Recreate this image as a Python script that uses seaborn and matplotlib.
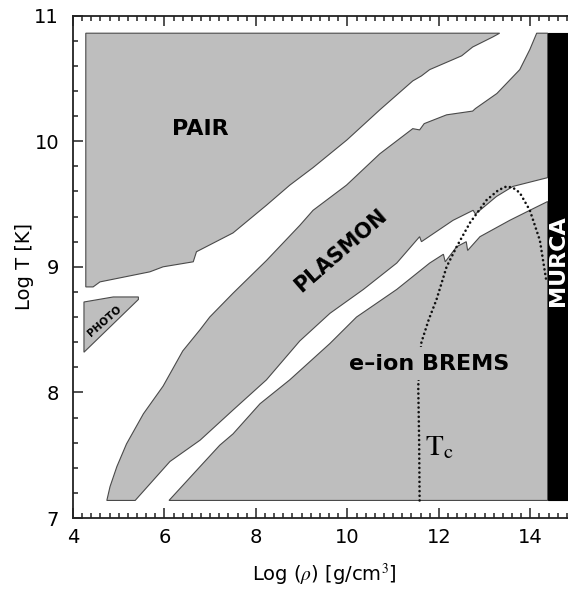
import numpy as np
import pandas as pd
import seaborn as sns
import matplotlib.pyplot as plt
from matplotlib.ticker import MultipleLocator

# region outlines (log rho, log T)
pair_rho = [4.28, 13.33, 13.18, 12.74, 12.50, 12.31, 11.80, 11.62, 11.43, 10.71, 9.99,
            9.25, 8.74, 8.23, 7.50, 6.70, 6.63, 5.97, 5.68, 4.59, 4.44, 4.28]
pair_T = [10.86, 10.86, 10.83, 10.75, 10.68, 10.65, 10.57, 10.52, 10.48, 10.25, 10.01,
          9.79, 9.65, 9.49, 9.27, 9.12, 9.04, 9.00, 8.96, 8.88, 8.84, 8.84]

photo_rho = [4.24, 4.88, 5.43, 5.43, 4.24]
photo_T = [8.72, 8.76, 8.76, 8.74, 8.32]

plasmon_rho = [4.74, 5.36, 6.12, 6.78, 7.50, 8.23, 8.96, 9.62, 10.35, 11.08, 11.58,
               11.62, 12.31, 12.75, 12.80, 13.26, 13.62, 14.38, 14.38, 14.14, 13.99,
               13.77, 13.27, 12.80, 12.74, 12.17, 11.68, 11.58, 11.43, 10.71, 9.98,
               9.25, 8.96, 8.23, 7.50, 6.99, 6.78, 6.40, 5.97, 5.54, 5.17, 4.96, 4.81, 4.74]
plasmon_T = [7.14, 7.14, 7.45, 7.62, 7.86, 8.10, 8.41, 8.63, 8.82, 9.03, 9.24,
             9.20, 9.37, 9.45, 9.42, 9.56, 9.64, 9.71, 10.86, 10.86, 10.73,
             10.57, 10.38, 10.26, 10.24, 10.21, 10.14, 10.09, 10.10, 9.90, 9.65,
             9.45, 9.33, 9.05, 8.79, 8.60, 8.50, 8.33, 8.05, 7.83, 7.59, 7.41, 7.25, 7.14]

brems_rho = [6.10, 6.78, 7.21, 7.50, 8.09, 8.74, 9.62, 10.20, 11.08, 11.80, 12.10,
             12.14, 12.39, 12.60, 12.63, 12.90, 13.55, 13.99, 14.38, 14.38]
brems_T = [7.14, 7.41, 7.58, 7.67, 7.91, 8.10, 8.39, 8.60, 8.82, 9.03, 9.10,
           9.04, 9.16, 9.20, 9.13, 9.24, 9.37, 9.45, 9.52, 7.14]

murca_rho = [14.38, 15.2, 15.2, 14.38]
murca_T = [7.14, 7.14, 10.86, 10.86]

tc_rho = [11.58, 11.57, 11.55, 11.58, 11.62, 11.78, 11.95, 12.17, 12.39, 12.68, 13.04,
          13.30, 13.48, 13.62, 13.77, 13.99, 14.21, 14.35]
tc_T = [7.14, 7.60, 8.05, 8.25, 8.40, 8.58, 8.74, 9.00, 9.16, 9.35, 9.53,
        9.61, 9.64, 9.63, 9.59, 9.45, 9.21, 8.89]

GREY = '#bebebe'

sns.set_style('ticks')
plt.rcParams['font.family'] = ['DejaVu Sans']
plt.rcParams['mathtext.fontset'] = 'stix'
plt.rcParams['text.color'] = 'black'
plt.rcParams['axes.labelcolor'] = 'black'
plt.rcParams['xtick.labelcolor'] = 'black'
plt.rcParams['ytick.labelcolor'] = 'black'

fig = plt.figure(figsize=(5.68, 5.89), dpi=100)
ax = fig.add_axes([0.1285, 0.1205, 0.8856, 0.853])

for xs, ys in [(pair_rho, pair_T), (photo_rho, photo_T),
               (plasmon_rho, plasmon_T), (brems_rho, brems_T)]:
    ax.fill(xs, ys, facecolor=GREY, edgecolor='#4a4a4a', lw=0.8, zorder=1)
ax.fill(murca_rho, murca_T, facecolor='black', edgecolor='black', lw=0.8, zorder=1)

tc = pd.DataFrame({'rho': tc_rho, 'T': tc_T})
sns.lineplot(data=tc, x='rho', y='T', sort=False, estimator=None, ax=ax,
             color='#111111', lw=1.9, linestyle=(0, (0.01, 1.75)),
             dash_capstyle='round', zorder=2)

ax.text(6.78, 10.10, 'PAIR', fontsize=16, fontweight='bold', ha='center', va='center')
ax.text(9.86, 9.13, 'PLASMON', fontsize=15, fontweight='bold', ha='center',
        va='center', rotation=41)
ax.text(4.70, 8.57, 'PHOTO', fontsize=7.5, fontweight='bold', ha='center',
        va='center', rotation=41)
ax.text(11.78, 8.23, 'e\u2013ion BREMS', fontsize=16, fontweight='bold', ha='center',
        va='center', zorder=3,
        bbox=dict(boxstyle='square,pad=0.3', fc=GREY, ec='none'))
ax.text(14.61, 9.05, 'MURCA', fontsize=16, fontweight='bold', color='white',
        ha='center', va='center', rotation=90, zorder=3)
ax.text(11.69, 7.50, r'$\mathrm{T_c}$', fontsize=21, ha='left', va='baseline', zorder=3)

ax.set_xlim(4, 15)
ax.set_ylim(7, 11)
ax.xaxis.set_major_locator(MultipleLocator(2))
ax.xaxis.set_minor_locator(MultipleLocator(0.2))
ax.yaxis.set_major_locator(MultipleLocator(1))
ax.yaxis.set_minor_locator(MultipleLocator(0.2))
ax.tick_params(which='both', direction='in', top=True, right=True,
               width=1.1, color='#222222', labelsize=14)
ax.tick_params(which='major', length=7)
ax.tick_params(which='minor', length=3.5)
ax.tick_params(axis='x', pad=7)
ax.tick_params(axis='y', pad=10)
for s in ax.spines.values():
    s.set_linewidth(1.3)
    s.set_color('#222222')

ax.set_xlabel(r'Log ($\rho$) [g/cm$^3$]', fontsize=14, labelpad=11)
ax.set_ylabel('Log T [K]', fontsize=14, labelpad=0)

fig.savefig('out.png', dpi=100)
